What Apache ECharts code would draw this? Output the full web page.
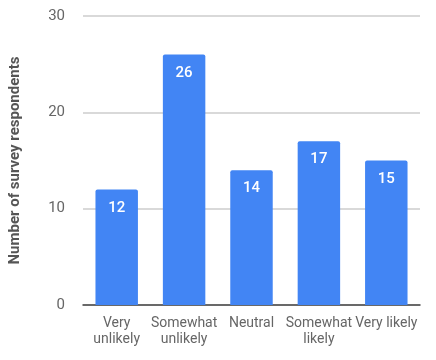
<!DOCTYPE html>
<html>
<head>
<meta charset="utf-8">
<script src="https://cdn.jsdelivr.net/npm/echarts@6/dist/echarts.min.js"></script>
<style>
  html, body { margin: 0; padding: 0; background: #fff; }
  #main { width: 436px; height: 360px; }
</style>
</head>
<body>
<div id="main"></div>
<script>
// categories along the x axis
const categories = ["Very\nunlikely", "Somewhat\nunlikely", "Neutral", "Somewhat\nlikely", "Very likely"];
// respondents per answer
const respondents = [12, 26, 14, 17, 15];
const yTicks = { min: 0, max: 30, interval: 10 };

let chart = echarts.init(document.getElementById("main"));

let option = {
  animation: false,
  textStyle: { fontFamily: "Roboto" },
  grid: { left: 80, right: 16, top: 16, bottom: 55 },
  xAxis: {
    type: "category",
    data: categories,
    axisTick: { show: false },
    axisLine: { lineStyle: { color: "#444", width: 1.5 } },
    axisLabel: { color: "#666", fontSize: 14, lineHeight: 16, margin: 10, interval: 0 }
  },
  yAxis: {
    type: "value",
    min: yTicks.min,
    max: yTicks.max,
    interval: yTicks.interval,
    name: "Number of survey respondents",
    nameLocation: "middle",
    nameGap: 60,
    nameTextStyle: { color: "#555", fontSize: 15, fontWeight: "bold" },
    axisLabel: { color: "#666", fontSize: 15, margin: 18 },
    splitLine: { lineStyle: { color: "#ccc", width: 1.5 } }
  },
  series: [
    {
      type: "bar",
      data: respondents,
      barWidth: "63%",
      itemStyle: { color: "#4285F4", borderRadius: [2, 2, 0, 0] },
      label: {
        show: true,
        position: "insideTop",
        distance: 11,
        color: "#fff",
        fontSize: 15,
        fontWeight: 500
      }
    }
  ]
};

chart.setOption(option);
</script>
</body>
</html>
